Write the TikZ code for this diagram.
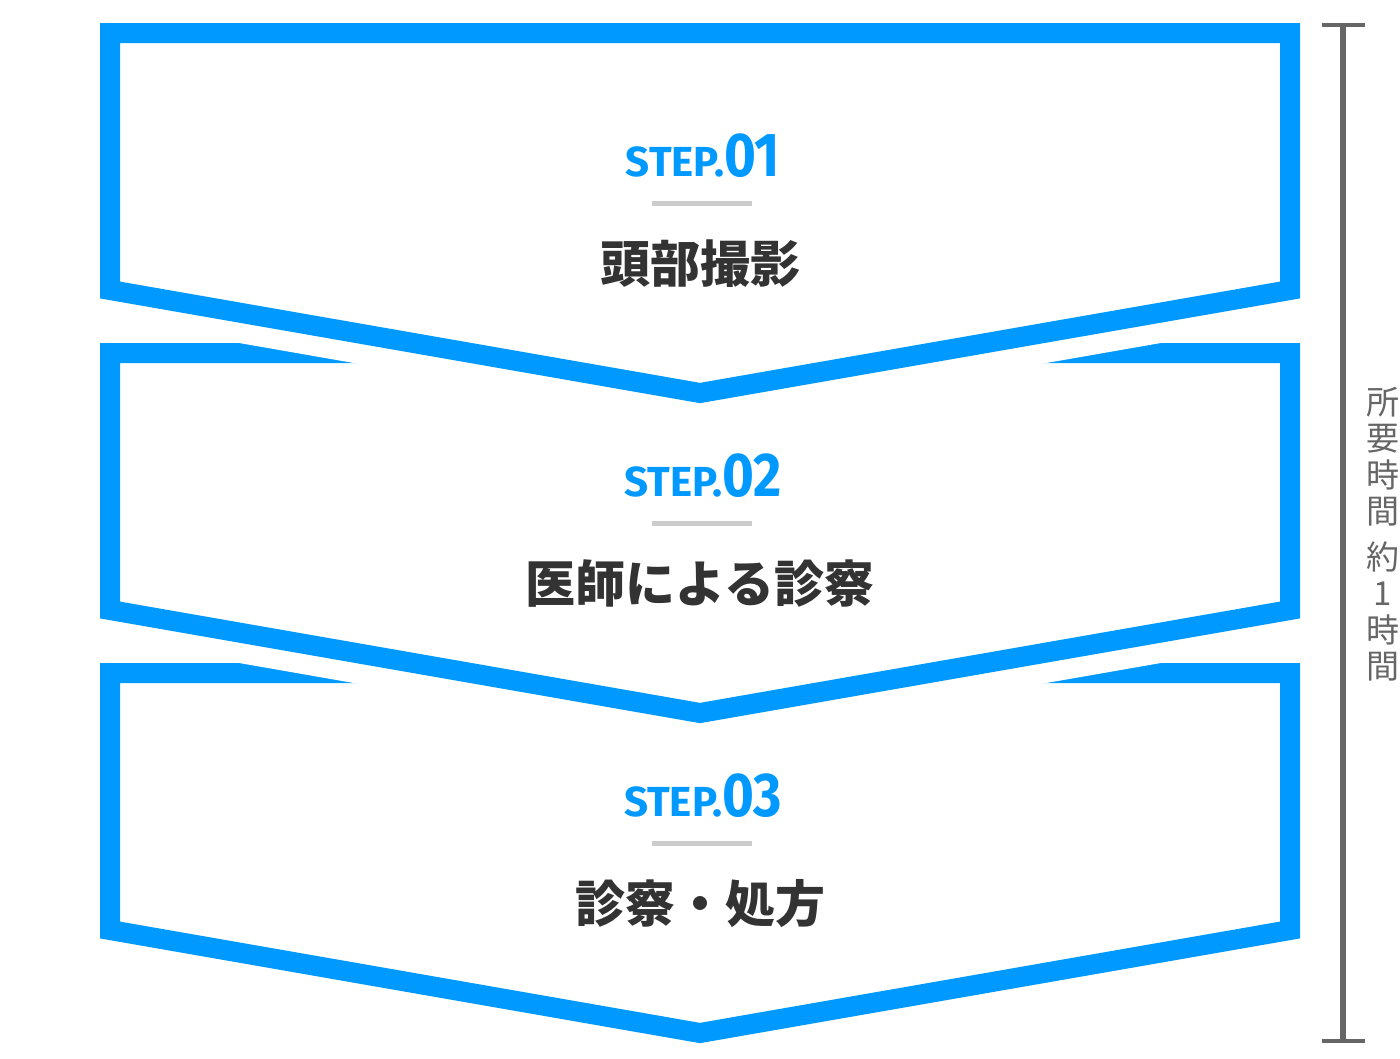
\documentclass[tikz,border=0pt]{standalone}
\usepackage{fontspec}
\setmainfont{Noto Sans CJK JP}
\newfontfamily\stepfont{Fira Sans}
\definecolor{stepblue}{HTML}{0099FF}
\definecolor{rulegray}{HTML}{CCCCCC}
\definecolor{titlegray}{HTML}{333333}
\definecolor{bargray}{HTML}{666666}

\begin{document}
\begin{tikzpicture}[x=1pt, y=-1pt,
        halo/.style={draw=white, fill=white, line width=60pt, line join=miter},
        frame/.style={draw=stepblue, line width=20pt, line join=miter},
        steplabel/.style={inner sep=0pt, anchor=base, text=stepblue},
        steptitle/.style={inner sep=0pt, anchor=base, text=titlegray, font=\fontsize{50}{50}\selectfont\bfseries},
        steprule/.style={draw=rulegray, line width=5pt},
        bar/.style={draw=bargray, line width=6pt},
        barcap/.style={draw=bargray, line width=4pt}]
            \useasboundingbox (0,0) rectangle (1400,1058);

            % frames, lowest first so the halo of the one above cuts it
            \draw[halo]  (110,673) -- (1290,673) -- (1290,930) -- (700,1033) -- (110,930) -- cycle;
            \draw[frame] (110,673) -- (1290,673) -- (1290,930) -- (700,1033) -- (110,930) -- cycle;
            \draw[halo]  (110,353) -- (1290,353) -- (1290,610) -- (700,713) -- (110,610) -- cycle;
            \draw[frame] (110,353) -- (1290,353) -- (1290,610) -- (700,713) -- (110,610) -- cycle;
            \draw[halo]  (110,33) -- (1290,33) -- (1290,290) -- (700,393) -- (110,290) -- cycle;
            \draw[frame] (110,33) -- (1290,33) -- (1290,290) -- (700,393) -- (110,290) -- cycle;

            % step 01
            \node[steplabel] (step1) at (703,176) {\stepfont\bfseries\fontsize{42}{42}\selectfont STEP.\fontsize{62}{62}\selectfont\scalebox{0.88}[1]{01}};
            \coordinate (rule1a) at (652,203);
            \coordinate (rule1b) at (752,203);
            \draw[steprule] (rule1a) -- (rule1b);
            \node[steptitle] (title1) at (700,282) {頭部撮影};

            % step 02
            \node[steplabel] (step2) at (703,496) {\stepfont\bfseries\fontsize{42}{42}\selectfont STEP.\fontsize{62}{62}\selectfont\scalebox{0.88}[1]{02}};
            \coordinate (rule2a) at (652,523);
            \coordinate (rule2b) at (752,523);
            \draw[steprule] (rule2a) -- (rule2b);
            \node[steptitle] (title2) at (700,602) {医師による診察};

            % step 03
            \node[steplabel] (step3) at (703,816) {\stepfont\bfseries\fontsize{42}{42}\selectfont STEP.\fontsize{62}{62}\selectfont\scalebox{0.88}[1]{03}};
            \coordinate (rule3a) at (652,843);
            \coordinate (rule3b) at (752,843);
            \draw[steprule] (rule3a) -- (rule3b);
            \node[steptitle] (title3) at (700,922) {診察・処方};

            % time bar
            \coordinate (bartop) at (1343,25);
            \coordinate (barbot) at (1343,1041);
            \draw[bar] (bartop) -- (barbot);
            \draw[barcap] ([xshift=-21.5pt]bartop) -- ([xshift=21.5pt]bartop);
            \draw[barcap] ([xshift=-21.5pt]barbot) -- ([xshift=21.5pt]barbot);
            \node[inner sep=0pt, align=center, text=bargray, font=\fontsize{33}{36.5}\selectfont] (duration) at (1383,534)
                {所\\要\\時\\間\\[9pt]約\\1\\時\\間};

        \end{tikzpicture}
\end{document}
